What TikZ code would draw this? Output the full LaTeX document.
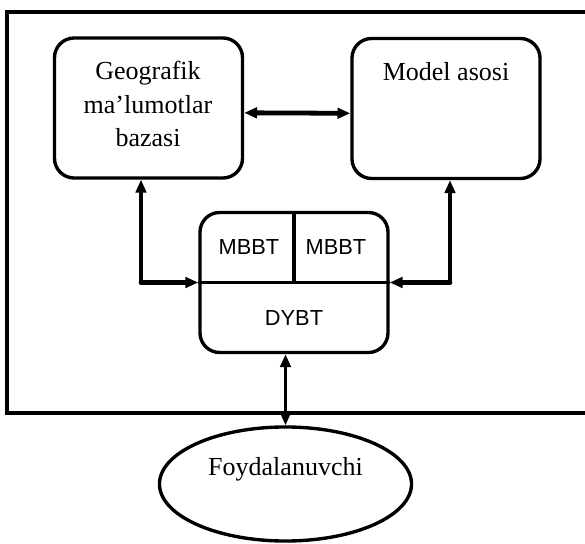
\documentclass[tikz,border=0pt]{standalone}
\usepackage{fontspec}
\setmainfont{Liberation Serif}
\newfontfamily\cellfont{Liberation Sans}
\usetikzlibrary{arrows.meta, shapes.geometric, positioning}

\begin{document}
\begin{tikzpicture}[
  x=0.025cm, y=-0.025cm,
  every node/.style={font=\fontsize{18.5}{24}\selectfont},
  blk/.style={rectangle, rounded corners=14pt, draw, line width=2.4pt,
              minimum width=4.7cm, minimum height=3.5cm},
  cell/.style={font=\cellfont\fontsize{15.5}{18}\selectfont},
  tip/.style={-{Triangle[length=3.2mm, width=2.6mm]}},
  both/.style={{Triangle[length=3.2mm, width=2.6mm]}-{Triangle[length=3.2mm, width=2.6mm]}},
  thin/.style={line width=2.2pt},
  bus/.style={line width=3.4pt}
]
\useasboundingbox (0,0) rectangle (585,544);

% frame, open on the right
\draw[line width=3.2pt] (585,12) -- (7,12) -- (7,413) -- (585,413);

\node[blk] (geo) at (148.5,108) {};
\node[align=center] (geotxt) at (148,104) {Geografik\\ma’lumotlar\\bazasi};

\node[blk] (mod) at (446,108.5) {};
\node (modtxt) at (446,72) {Model asosi};

\node[blk] (dybt) at (294,282.5) {};
\draw[thin] (dybt.west) -- (dybt.east);
\draw[thin] (dybt.north) -- (dybt.center);
\node[cell] (mb1) at (249,247) {MBBT};
\node[cell] (mb2) at (336,247) {MBBT};
\node[cell] (dy) at (294,318) {DYBT};

\node[ellipse, draw, line width=2.4pt, minimum width=6.3cm,
      minimum height=2.85cm] (user) at (285.5,484) {};
\node (usertxt) at (285.5,469) {Foydalanuvchi};

% connectors
\draw[bus, both] ([yshift=-0.12cm]geo.east) -- ([yshift=-0.12cm]mod.west);

\coordinate (lk) at (141,282.5);
\coordinate (rk) at (450,282.5);
\draw[bus, tip, line cap=round] (lk) -- (dybt.west);
\draw[thin, tip] (lk) -- (lk |- geo.south);
\draw[bus, tip, line cap=round] (rk) -- (dybt.east);
\draw[thin, tip] (rk) -- (rk |- mod.south);

\draw[thin, both] (user.north |- dybt.south) -- (user.north);
\end{tikzpicture}
\end{document}
